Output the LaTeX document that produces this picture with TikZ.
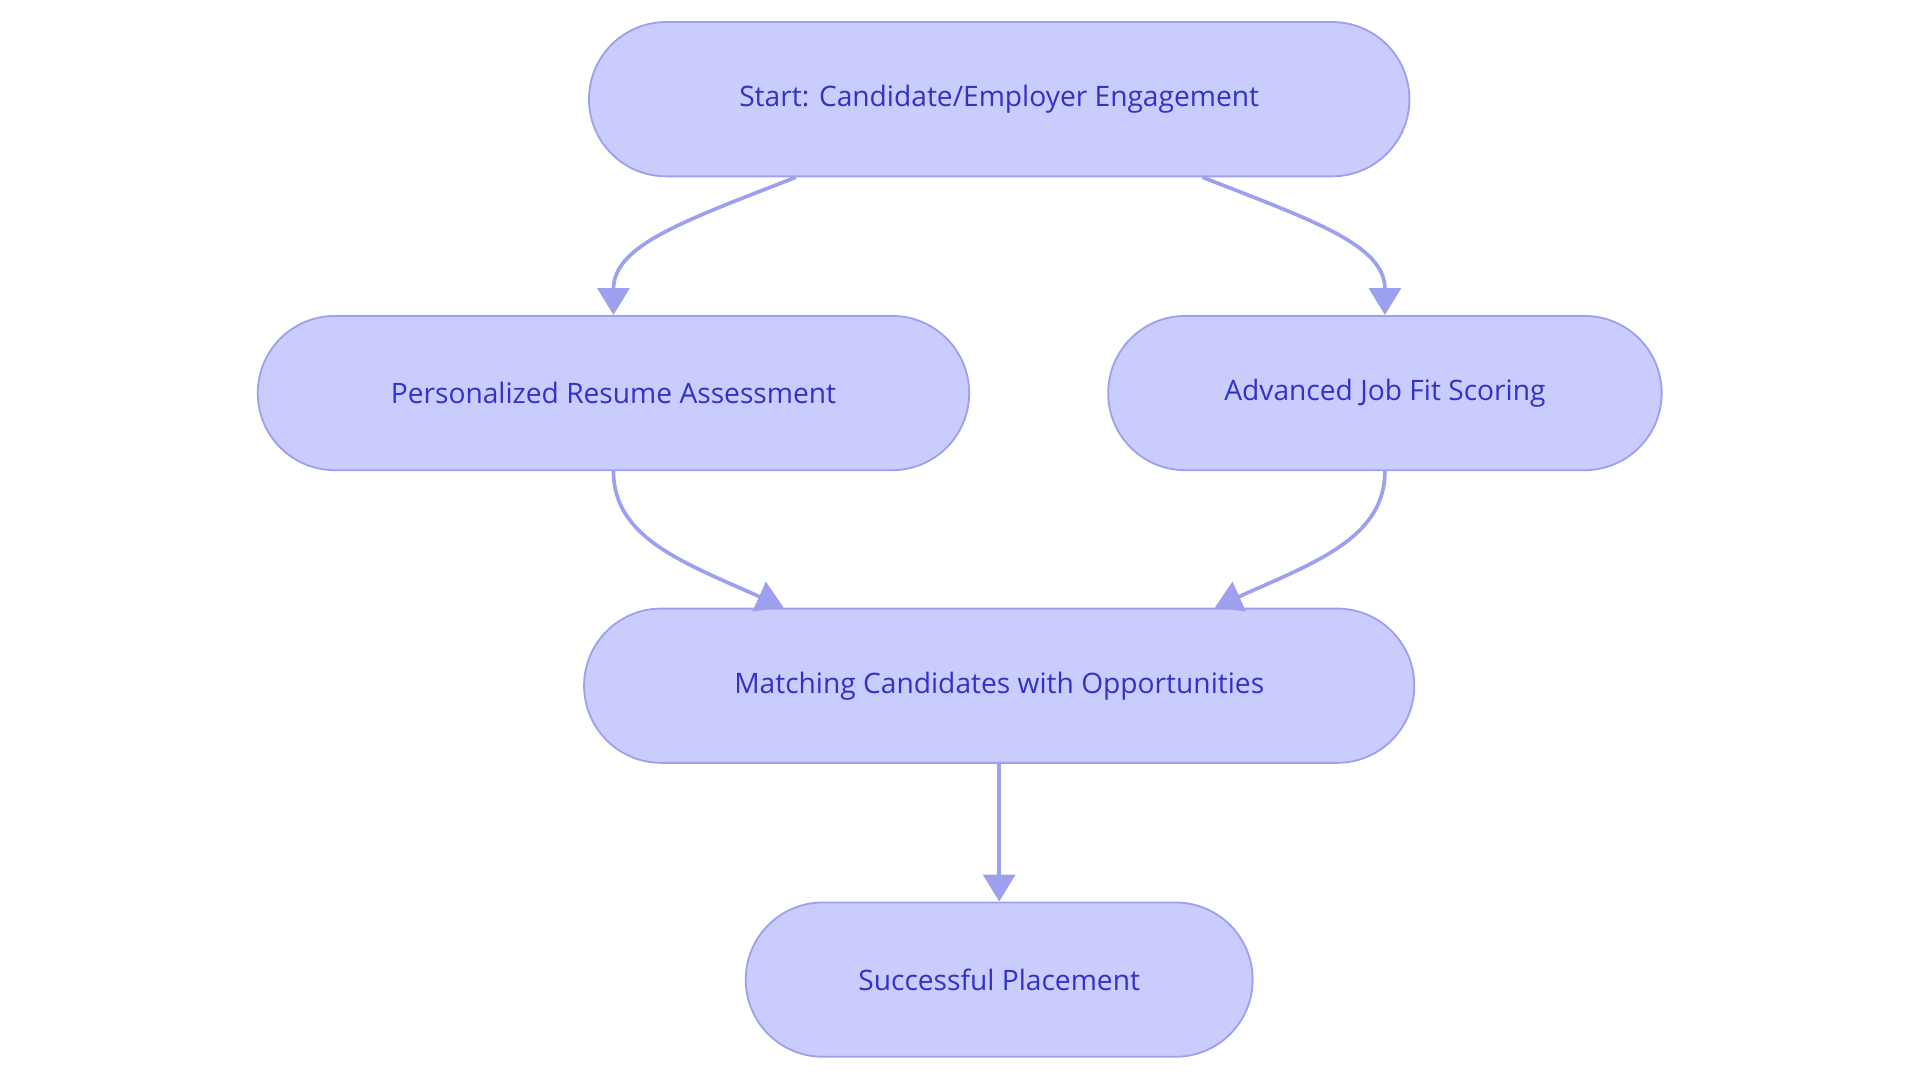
\documentclass[tikz,border=0pt]{standalone}
\usepackage{fontspec}
\setmainfont{Open Sans}
\usetikzlibrary{arrows.meta,calc}
\definecolor{nfill}{HTML}{CACCFD}
\definecolor{nline}{HTML}{9DA0EE}
\definecolor{ntext}{HTML}{3232C8}
\begin{document}
\begin{tikzpicture}[x=1pt,y=-1pt,
  box/.style={draw=nline,fill=nfill,line width=1.5pt,rounded corners=63pt,minimum height=126pt,text=ntext,font=\fontsize{23}{27}\selectfont,inner sep=0pt},
  arr/.style={draw=nline,line width=3pt,-{Triangle[length=22pt,width=26pt]}}]
\useasboundingbox (0,0) rectangle (1568,884);
\node[box,minimum width=670pt] (s) at (816,81) {Start: Candidate/Employer Engagement};
\node[box,minimum width=581pt] (p) at (501,321) {Personalized Resume Assessment};
\node[box,minimum width=452pt] (a) at (1131,321) {Advanced Job Fit Scoring};
\node[box,minimum width=678pt] (m) at (816,560) {Matching Candidates with Opportunities};
\node[box,minimum width=414pt] (f) at (816,800) {Successful Placement};
\coordinate (s1) at ($(s.south)+(-166,0)$);
\coordinate (s2) at ($(s.south)+(166,0)$);
\coordinate (m1) at ($(m.north)+(-176,0)$);
\coordinate (m2) at ($(m.north)+(176,0)$);
\draw[arr] (s1) .. controls (560,180) and (501,200) .. (p.north);
\draw[arr] (s2) .. controls (1072,180) and (1131,200) .. (a.north);
\draw[arr] (p.south) .. controls (501,440) and (560,460) .. (m1);
\draw[arr] (a.south) .. controls (1131,440) and (1072,460) .. (m2);
\draw[arr] (m.south) -- (f.north);
\end{tikzpicture}
\end{document}
